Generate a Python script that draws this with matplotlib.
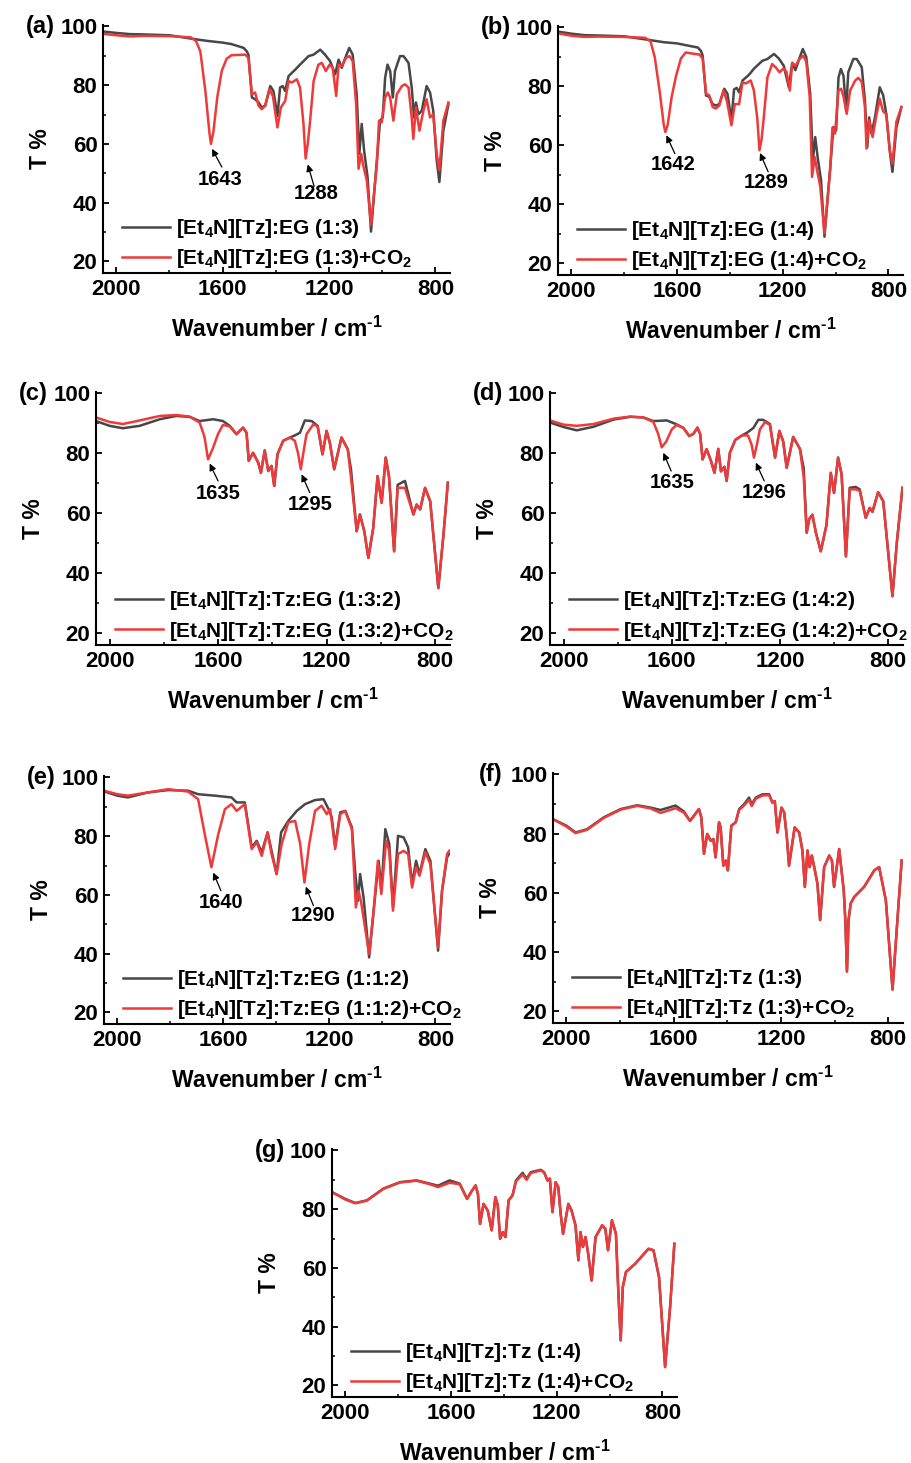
import numpy as np
import matplotlib
matplotlib.use("Agg")
import matplotlib.pyplot as plt
from matplotlib.ticker import MultipleLocator

plt.rcParams['font.family'] = ['Liberation Sans', 'DejaVu Sans']
plt.rcParams['font.weight'] = 'bold'
plt.rcParams['axes.labelweight'] = 'bold'
plt.rcParams['mathtext.fontset'] = 'custom'
plt.rcParams['mathtext.rm'] = 'Liberation Sans:bold'
plt.rcParams['mathtext.bf'] = 'Liberation Sans:bold'
plt.rcParams['mathtext.default'] = 'bf'

BLACK = '#474747'
RED = '#ee3a3a'

# ---- spectra: (wavenumber cm-1, T %) ----
A_BLACK = [(2050, 98.3), (2000, 97.8), (1950, 97.4), (1900, 97.3), (1800, 97.0), (1700, 95.6),
           (1650, 95.0), (1600, 94.5), (1567, 94.0), (1521, 92.7), (1509, 91.5), (1503, 90.4),
           (1490, 75.8), (1478, 75.2), (1465, 74.1), (1453, 72.4), (1440, 73.0), (1421, 79.7),
           (1409, 78.0), (1394, 69.5), (1384, 79.2), (1374, 79.7), (1365, 78.0), (1352, 83.1),
           (1327, 85.3), (1309, 87.0), (1277, 89.9), (1258, 90.4), (1233, 92.1), (1215, 90.4),
           (1196, 88.2), (1177, 83.7), (1164, 88.7), (1152, 85.9), (1139, 89.3), (1124, 92.7),
           (1111, 90.4), (1096, 76.9), (1086, 56.6), (1077, 66.8), (1068, 57.7), (1055, 48.7),
           (1042, 30.1), (1020, 54.4), (1008, 67.9), (998, 69.0), (989, 82.5), (980, 87.0),
           (970, 84.8), (960, 75.8), (952, 84.8), (933, 89.9), (920, 89.9), (901, 87.6),
           (889, 79.2), (880, 69.0), (873, 74.1), (864, 70.1), (851, 71.3), (833, 79.7),
           (820, 77.5), (808, 71.3), (795, 54.4), (785, 47.0), (770, 64.5), (751, 73.5)]
A_RED = [(2050, 97.5), (2000, 97.0), (1950, 96.6), (1900, 96.8), (1800, 96.7), (1720, 96.3),
         (1700, 95.0), (1684, 91.5), (1665, 78.0), (1650, 64.0), (1644, 60.0), (1635, 64.0),
         (1620, 76.0), (1603, 85.0), (1585, 89.0), (1567, 90.2), (1515, 90.4), (1503, 89.3),
         (1490, 76.9), (1478, 77.5), (1465, 73.0), (1453, 71.8), (1440, 73.0), (1424, 78.6),
         (1411, 76.3), (1394, 65.6), (1381, 72.4), (1365, 74.6), (1352, 81.4), (1340, 80.9),
         (1321, 82.0), (1309, 79.2), (1296, 66.8), (1288, 55.0), (1280, 60.0), (1271, 67.9),
         (1258, 81.4), (1240, 87.0), (1227, 87.6), (1212, 84.8), (1198, 87.0), (1186, 85.9),
         (1173, 76.3), (1164, 87.0), (1152, 86.5), (1136, 89.3), (1123, 89.9), (1111, 88.2),
         (1098, 73.5), (1089, 51.5), (1079, 56.6), (1070, 52.1), (1058, 47.6), (1042, 32.4),
         (1020, 53.2), (1012, 67.9), (1002, 67.3), (989, 75.8), (979, 77.5), (970, 75.8),
         (958, 67.9), (945, 76.9), (926, 79.7), (914, 80.3), (901, 79.2), (889, 69.0),
         (883, 61.7), (873, 72.4), (860, 64.5), (845, 71.3), (833, 75.2), (820, 69.0),
         (808, 70.1), (795, 56.6), (785, 51.0), (770, 67.9), (751, 74.1)]

B_BLACK = [(2050, 98.6), (2000, 97.9), (1950, 97.4), (1900, 97.3), (1800, 97.0), (1700, 95.7),
           (1650, 95.0), (1600, 94.6), (1567, 94.0), (1521, 93.2), (1509, 92.0), (1503, 90.5),
           (1490, 76.9), (1478, 76.5), (1465, 74.0), (1453, 73.5), (1440, 74.0), (1421, 79.2),
           (1409, 77.5), (1394, 68.5), (1384, 79.0), (1374, 79.5), (1365, 78.0), (1352, 82.0),
           (1327, 84.0), (1309, 86.0), (1277, 88.7), (1258, 89.3), (1233, 91.0), (1215, 89.5),
           (1196, 87.0), (1177, 79.7), (1164, 88.0), (1152, 85.5), (1139, 89.0), (1124, 92.7),
           (1111, 90.0), (1096, 77.5), (1086, 55.0), (1077, 62.8), (1068, 56.0), (1055, 48.2),
           (1042, 29.0), (1020, 53.0), (1008, 66.2), (998, 65.0), (989, 83.0), (980, 85.9),
           (970, 83.5), (960, 71.8), (952, 84.8), (933, 89.3), (920, 89.3), (901, 86.5),
           (889, 75.2), (880, 59.4), (873, 69.5), (864, 64.0), (851, 69.5), (833, 79.7),
           (820, 77.0), (808, 70.5), (795, 58.0), (785, 51.0), (770, 66.0), (751, 73.0)]
B_RED = [(2050, 98.0), (2000, 97.2), (1950, 96.8), (1900, 96.9), (1800, 96.8), (1720, 96.5),
         (1700, 95.3), (1684, 89.9), (1665, 78.0), (1650, 67.0), (1644, 64.5), (1635, 67.0),
         (1620, 76.5), (1603, 83.7), (1585, 89.5), (1567, 91.5), (1515, 90.8), (1503, 89.5),
         (1490, 77.5), (1478, 77.0), (1465, 73.0), (1453, 72.5), (1440, 73.5), (1424, 78.6),
         (1411, 75.0), (1394, 66.8), (1381, 74.0), (1365, 74.0), (1352, 81.4), (1340, 81.0),
         (1321, 82.0), (1309, 78.6), (1296, 69.0), (1288, 58.3), (1280, 62.0), (1271, 70.0),
         (1258, 83.0), (1240, 87.6), (1227, 86.5), (1212, 84.8), (1198, 86.0), (1186, 85.0),
         (1173, 78.6), (1164, 88.0), (1152, 87.0), (1136, 89.3), (1123, 90.4), (1111, 88.5),
         (1098, 76.5), (1089, 49.3), (1079, 56.0), (1070, 51.5), (1058, 46.0), (1042, 30.1),
         (1020, 52.0), (1012, 66.0), (1002, 64.0), (989, 78.6), (979, 79.2), (970, 76.5),
         (958, 70.7), (945, 78.6), (926, 82.0), (914, 82.9), (901, 81.5), (889, 73.0),
         (883, 58.9), (873, 68.5), (860, 62.8), (845, 70.5), (833, 75.8), (820, 71.5),
         (808, 70.5), (795, 58.5), (785, 53.8), (770, 68.0), (751, 73.0)]

C_BLACK = [(2050, 90.8), (2000, 89.2), (1951, 88.4), (1889, 89.2), (1815, 91.4), (1754, 92.5),
           (1705, 92.2), (1668, 90.8), (1618, 91.4), (1582, 90.8), (1557, 89.2), (1532, 86.4),
           (1520, 87.5), (1508, 88.6), (1495, 86.9), (1487, 77.5), (1471, 80.2), (1452, 76.9),
           (1442, 73.5), (1428, 81.0), (1415, 74.1), (1403, 75.8), (1393, 69.1), (1381, 79.7),
           (1360, 84.2), (1335, 85.3), (1317, 86.0), (1298, 86.9), (1280, 91.0), (1255, 90.8),
           (1233, 89.2), (1215, 79.7), (1200, 87.5), (1188, 83.6), (1172, 74.7), (1145, 85.3),
           (1122, 81.4), (1110, 74.7), (1089, 54.0), (1077, 59.6), (1061, 54.0), (1046, 45.1),
           (1028, 55.1), (1012, 72.4), (997, 63.5), (982, 78.6), (970, 72.4), (951, 47.3),
           (938, 69.5), (911, 70.8), (880, 59.6), (868, 62.9), (855, 61.3), (837, 68.5),
           (818, 64.0), (788, 35.0), (769, 52.9), (753, 70.2)]
C_RED = [(2050, 92.0), (2000, 90.5), (1951, 89.8), (1889, 91.0), (1815, 92.5), (1754, 92.8),
         (1705, 92.3), (1668, 90.3), (1650, 85.5), (1637, 78.0), (1620, 81.5), (1600, 86.5),
         (1582, 89.5), (1557, 89.0), (1532, 86.4), (1520, 87.5), (1508, 88.6), (1495, 86.9),
         (1487, 77.5), (1471, 80.2), (1452, 76.9), (1442, 73.5), (1428, 81.0), (1415, 74.1),
         (1403, 75.8), (1393, 69.1), (1381, 79.7), (1360, 84.2), (1335, 85.3), (1317, 84.2),
         (1305, 80.0), (1295, 74.7), (1285, 80.5), (1274, 86.4), (1249, 89.7), (1233, 89.0),
         (1215, 79.7), (1200, 87.5), (1188, 83.6), (1172, 74.7), (1145, 85.3), (1122, 81.4),
         (1110, 71.9), (1089, 54.0), (1077, 59.6), (1061, 54.0), (1046, 45.1), (1028, 55.1),
         (1012, 72.4), (997, 63.5), (982, 78.6), (970, 72.4), (951, 47.3), (938, 68.5),
         (911, 68.5), (880, 59.6), (868, 62.9), (855, 61.3), (837, 68.5), (818, 64.0),
         (788, 35.0), (769, 52.9), (753, 70.2)]

D_BLACK = [(2050, 90.3), (2000, 88.8), (1951, 87.7), (1889, 88.9), (1815, 91.3), (1754, 92.2),
           (1705, 92.0), (1668, 90.8), (1618, 91.0), (1582, 89.7), (1557, 88.5), (1535, 85.8),
           (1520, 86.5), (1505, 88.6), (1495, 86.5), (1486, 78.0), (1471, 81.4), (1455, 77.5),
           (1442, 73.5), (1428, 81.5), (1418, 74.0), (1405, 75.5), (1397, 70.8), (1385, 80.2),
           (1365, 84.5), (1340, 86.0), (1320, 87.0), (1298, 88.5), (1280, 91.2), (1262, 91.2),
           (1237, 89.8), (1218, 78.6), (1202, 87.5), (1188, 84.0), (1175, 75.2), (1151, 85.5),
           (1126, 81.5), (1112, 75.0), (1101, 53.5), (1092, 58.0), (1080, 59.5), (1067, 53.5),
           (1049, 47.3), (1028, 56.0), (1012, 73.5), (1000, 66.8), (985, 78.6), (972, 73.0),
           (956, 45.6), (942, 68.5), (920, 68.8), (905, 68.0), (883, 58.5), (868, 61.8),
           (858, 60.5), (837, 67.0), (818, 64.0), (784, 32.3), (768, 50.0), (747, 68.5)]
D_RED = [(2050, 91.0), (2000, 89.6), (1951, 89.2), (1889, 89.8), (1815, 91.6), (1754, 92.3),
         (1705, 92.0), (1668, 90.5), (1650, 86.5), (1637, 82.0), (1620, 84.0), (1600, 88.0),
         (1582, 89.5), (1557, 88.5), (1535, 85.8), (1520, 86.5), (1505, 88.6), (1495, 86.5),
         (1486, 78.0), (1471, 81.4), (1455, 77.5), (1442, 73.5), (1428, 81.5), (1418, 74.0),
         (1405, 75.5), (1397, 70.8), (1385, 80.2), (1365, 84.5), (1340, 86.0), (1318, 86.0),
         (1305, 83.0), (1296, 78.6), (1285, 83.0), (1274, 88.0), (1255, 90.5), (1237, 89.5),
         (1218, 78.6), (1202, 87.5), (1188, 84.0), (1175, 75.2), (1151, 85.5), (1126, 81.5),
         (1112, 72.0), (1101, 53.5), (1092, 58.0), (1080, 59.5), (1067, 53.5), (1049, 47.3),
         (1028, 56.0), (1012, 73.5), (1000, 66.8), (985, 78.6), (972, 73.0), (956, 45.6),
         (942, 68.0), (920, 68.0), (905, 67.5), (883, 58.5), (868, 61.8), (858, 60.5),
         (837, 67.0), (818, 64.0), (784, 32.3), (768, 50.0), (747, 68.5)]

E_BLACK = [(2058, 95.5), (2000, 93.8), (1960, 93.2), (1884, 94.9), (1808, 95.7), (1733, 95.5),
           (1695, 94.3), (1632, 93.8), (1569, 93.2), (1550, 91.5), (1519, 91.5), (1493, 76.2),
           (1474, 78.4), (1455, 74.5), (1433, 81.3), (1418, 75.0), (1399, 67.1), (1382, 81.3),
           (1355, 85.2), (1323, 88.6), (1292, 90.9), (1254, 92.3), (1222, 92.6), (1203, 89.2),
           (1191, 86.4), (1178, 76.7), (1159, 88.1), (1140, 88.6), (1115, 83.0), (1103, 68.2),
           (1092, 58.0), (1084, 67.1), (1071, 59.1), (1050, 38.7), (1033, 54.6), (1014, 71.6),
           (1004, 61.4), (989, 82.4), (974, 77.3), (960, 55.7), (941, 80.1), (920, 79.6),
           (903, 76.2), (888, 63.7), (873, 71.6), (860, 67.1), (838, 75.6), (819, 71.6),
           (790, 41.0), (775, 61.4), (756, 72.8), (748, 74.0)]
E_RED = [(2058, 95.7), (2000, 94.3), (1960, 93.8), (1884, 94.9), (1808, 96.0), (1733, 95.2),
         (1695, 92.6), (1670, 80.7), (1645, 69.4), (1619, 80.7), (1594, 89.2), (1569, 90.9),
         (1550, 88.6), (1519, 90.9), (1493, 75.6), (1474, 77.9), (1455, 73.3), (1433, 81.3),
         (1418, 73.9), (1399, 67.1), (1380, 77.3), (1355, 84.7), (1329, 85.2), (1310, 77.3),
         (1294, 64.2), (1276, 77.3), (1254, 88.6), (1229, 90.4), (1210, 87.5), (1197, 89.2),
         (1178, 75.6), (1159, 87.5), (1140, 88.6), (1115, 82.4), (1100, 55.7), (1090, 61.4),
         (1080, 57.4), (1050, 39.8), (1033, 54.6), (1017, 71.6), (1004, 60.3), (986, 78.4),
         (974, 75.0), (960, 54.6), (941, 73.9), (920, 75.0), (903, 73.9), (888, 62.5),
         (873, 69.4), (860, 66.5), (838, 74.5), (819, 70.5), (790, 42.1), (775, 61.4),
         (756, 73.9), (748, 75.0)]

F_BLACK = [(2050, 84.9), (2000, 82.7), (1966, 80.4), (1923, 81.5), (1861, 85.5), (1798, 88.3),
           (1736, 89.6), (1686, 88.8), (1649, 88.0), (1593, 89.5), (1562, 87.5), (1539, 84.3),
           (1525, 86.0), (1506, 88.3), (1497, 85.5), (1487, 73.2), (1475, 79.9), (1462, 77.6),
           (1452, 78.2), (1444, 72.0), (1431, 83.8), (1425, 82.1), (1415, 69.2), (1406, 70.9),
           (1398, 67.6), (1385, 82.7), (1369, 83.8), (1356, 88.3), (1338, 89.9), (1319, 92.2),
           (1309, 89.9), (1294, 92.2), (1269, 93.3), (1244, 93.3), (1232, 90.5), (1223, 91.0),
           (1213, 80.4), (1198, 88.8), (1188, 87.1), (1178, 78.7), (1170, 69.2), (1149, 82.1),
           (1132, 80.4), (1120, 74.3), (1111, 62.0), (1101, 74.3), (1093, 68.7), (1085, 72.6),
           (1076, 68.7), (1064, 63.1), (1054, 50.8), (1039, 68.7), (1020, 72.6), (1010, 70.9),
           (1002, 62.0), (983, 74.8), (966, 60.9), (960, 50.8), (954, 33.4), (948, 50.8),
           (940, 56.4), (927, 58.6), (890, 62.0), (852, 67.6), (834, 68.7), (809, 57.5),
           (784, 27.3), (765, 51.9), (750, 70.9)]
F_RED = [(2050, 84.9), (2000, 82.4), (1966, 80.2), (1923, 81.3), (1861, 85.3), (1798, 88.1),
         (1736, 89.4), (1686, 88.5), (1649, 87.0), (1593, 88.6), (1562, 87.1), (1539, 84.3),
         (1525, 86.0), (1506, 88.3), (1497, 85.5), (1487, 73.2), (1475, 79.9), (1462, 77.6),
         (1452, 78.2), (1444, 72.0), (1431, 83.8), (1425, 82.1), (1415, 69.2), (1406, 70.9),
         (1398, 67.6), (1385, 82.7), (1369, 83.8), (1356, 88.0), (1338, 89.5), (1319, 91.4),
         (1309, 89.3), (1294, 91.8), (1269, 92.9), (1244, 93.0), (1232, 90.5), (1223, 91.0),
         (1213, 80.4), (1198, 88.8), (1188, 87.1), (1178, 78.7), (1170, 69.2), (1149, 82.1),
         (1132, 80.4), (1120, 74.3), (1111, 62.0), (1101, 74.3), (1093, 68.7), (1085, 72.6),
         (1076, 68.7), (1064, 63.1), (1054, 50.8), (1039, 68.7), (1020, 72.6), (1010, 70.9),
         (1002, 62.0), (983, 74.8), (966, 60.9), (960, 50.8), (954, 33.4), (948, 50.8),
         (940, 56.4), (927, 58.6), (890, 62.0), (852, 67.6), (834, 68.7), (809, 57.5),
         (784, 27.3), (765, 51.9), (750, 70.9)]

G_BLACK = [(2050, 85.8), (2000, 83.5), (1962, 82.1), (1918, 83.0), (1856, 87.0), (1793, 89.2),
           (1730, 89.8), (1680, 88.7), (1649, 88.0), (1605, 89.8), (1567, 88.7), (1539, 83.5),
           (1524, 85.8), (1507, 88.1), (1498, 85.2), (1490, 75.0), (1477, 81.8), (1461, 79.6),
           (1446, 72.8), (1432, 84.1), (1423, 81.3), (1414, 69.9), (1404, 72.2), (1394, 70.5),
           (1382, 83.0), (1367, 84.7), (1354, 89.8), (1329, 92.4), (1314, 90.4), (1298, 92.6),
           (1260, 93.4), (1248, 92.6), (1235, 89.8), (1226, 90.4), (1216, 79.0), (1204, 89.2),
           (1194, 87.5), (1185, 78.4), (1176, 71.6), (1156, 81.8), (1144, 79.6), (1129, 74.5),
           (1118, 62.6), (1110, 72.2), (1101, 67.1), (1091, 70.5), (1081, 64.8), (1068, 55.7),
           (1053, 70.5), (1028, 74.5), (1016, 73.3), (1006, 66.0), (991, 76.2), (976, 71.6),
           (966, 50.0), (958, 35.3), (950, 53.5), (938, 58.6), (903, 61.4), (853, 66.5),
           (834, 66.0), (813, 56.9), (790, 26.2), (771, 46.7), (755, 68.2)]
G_RED = [(2050, 85.8), (2000, 83.3), (1962, 82.0), (1918, 82.9), (1856, 86.9), (1793, 89.1),
         (1730, 89.7), (1680, 88.5), (1649, 87.5), (1605, 89.0), (1567, 88.5), (1539, 83.5),
         (1524, 85.8), (1507, 88.1), (1498, 85.2), (1490, 75.0), (1477, 81.8), (1461, 79.6),
         (1446, 72.8), (1432, 84.1), (1423, 81.3), (1414, 69.9), (1404, 72.2), (1394, 70.5),
         (1382, 83.0), (1367, 84.7), (1354, 89.5), (1329, 91.8), (1314, 90.0), (1298, 92.3),
         (1260, 93.2), (1248, 92.6), (1235, 89.8), (1226, 90.4), (1216, 79.0), (1204, 89.2),
         (1194, 87.5), (1185, 78.4), (1176, 71.6), (1156, 81.8), (1144, 79.6), (1129, 74.5),
         (1118, 62.6), (1110, 72.2), (1101, 67.1), (1091, 70.5), (1081, 64.8), (1068, 55.7),
         (1053, 70.5), (1028, 74.5), (1016, 73.3), (1006, 66.0), (991, 76.2), (976, 71.6),
         (966, 50.0), (958, 35.3), (950, 53.5), (938, 58.6), (903, 61.4), (853, 66.5),
         (834, 66.0), (813, 56.9), (790, 26.2), (771, 46.7), (755, 68.2)]

LABELS = {
    'a': r'[Et$_4$N][Tz]:EG (1:3)',
    'b': r'[Et$_4$N][Tz]:EG (1:4)',
    'c': r'[Et$_4$N][Tz]:Tz:EG (1:3:2)',
    'd': r'[Et$_4$N][Tz]:Tz:EG (1:4:2)',
    'e': r'[Et$_4$N][Tz]:Tz:EG (1:1:2)',
    'f': r'[Et$_4$N][Tz]:Tz (1:3)',
    'g': r'[Et$_4$N][Tz]:Tz (1:4)',
}
PEAKS = {
    'a': ['1643', '1288'],
    'b': ['1642', '1289'],
    'c': ['1635', '1295'],
    'd': ['1635', '1296'],
    'e': ['1640', '1290'],
}

# layout (pixels of the 911x1463 figure): left, top, right, bottom
BOXES = {
    'a': (103, 25, 450, 273),
    'b': (558, 26, 903, 275),
    'c': (96, 392, 450, 645),
    'd': (550, 392, 903, 645),
    'e': (104, 776, 450, 1024),
    'f': (553, 773, 903, 1023),
    'g': (332, 1149, 677, 1397),
}
# arrow tip, arrow tail, text centre for each annotation (data coords)
NOTE_POS = {
    'a': [((1640, 58.3), (1603, 52.1), (1608, 48.0)), ((1280, 53.0), (1256, 45.5), (1250, 43.0))],
    'b': [((1640, 63.4), (1608, 57.2), (1615, 53.5)), ((1286, 57.4), (1255, 51.0), (1261, 47.5))],
    'c': [((1631, 76.6), (1600, 70.8), (1600, 66.5)), ((1292, 73.0), (1262, 66.9), (1262, 63.0))],
    'd': [((1631, 80.2), (1602, 74.1), (1598, 70.2)), ((1289, 76.9), (1258, 70.8), (1258, 66.9))],
    'e': [((1638, 67.6), (1609, 61.4), (1609, 57.4)), ((1289, 62.8), (1260, 56.3), (1260, 52.9))],
}

W, H = 911, 1463
fig = plt.figure(figsize=(W / 100, H / 100), dpi=100)

curves = {'a': (A_BLACK, A_RED), 'b': (B_BLACK, B_RED), 'c': (C_BLACK, C_RED),
          'd': (D_BLACK, D_RED), 'e': (E_BLACK, E_RED), 'f': (F_BLACK, F_RED),
          'g': (G_BLACK, G_RED)}

for tag, (blk, red) in curves.items():
    l, t, r, b = BOXES[tag]
    ax = fig.add_axes([l / W, 1 - b / H, (r - l) / W, (b - t) / H])
    blk = np.array(blk)
    red = np.array(red)
    ax.plot(blk[:, 0], blk[:, 1], color=BLACK, lw=1.8, label=LABELS[tag])
    ax.plot(red[:, 0], red[:, 1], color=RED, lw=1.8, label=LABELS[tag] + '+CO$_2$')

    ax.set_xlim(2050, 745)
    ax.set_ylim(16, 100.5)
    ax.xaxis.set_major_locator(MultipleLocator(400))
    ax.xaxis.set_minor_locator(MultipleLocator(200))
    ax.yaxis.set_minor_locator(MultipleLocator(10))
    ax.set_yticks([20, 40, 60, 80, 100])
    ax.tick_params(which='major', direction='in', length=4, width=1.3, labelsize=16, pad=4)
    ax.tick_params(which='minor', direction='in', length=2.5, width=1.1)
    for s in ['top', 'right']:
        ax.spines[s].set_visible(False)
    for s in ['left', 'bottom']:
        ax.spines[s].set_linewidth(1.5)

    ax.set_xlabel(r'Wavenumber / cm$^{\text{-}1}$', fontsize=16.5, labelpad=12)
    ax.set_ylabel('T %', fontsize=16.5, labelpad=6)

    ax.annotate('(%s)' % tag, xy=(0, 1), xycoords='axes fraction',
                xytext=(-45, -1), textcoords='offset points',
                ha='center', va='center', fontsize=17)

    ax.legend(loc='lower left', bbox_to_anchor=(0.0, -0.065), frameon=False,
              fontsize=15, handlelength=2.3, handletextpad=0.3, labelspacing=0.35,
              borderaxespad=0.5)

    if tag in PEAKS:
        for txt, (tip, tail, tpos) in zip(PEAKS[tag], NOTE_POS[tag]):
            ax.annotate('', xy=tip, xytext=tail,
                        arrowprops=dict(arrowstyle='-|>', color='black', lw=0.9,
                                        mutation_scale=10, shrinkA=0, shrinkB=0))
            ax.text(tpos[0], tpos[1], txt, ha='center', va='center', fontsize=14.5)

fig.savefig('out.png', dpi=100)
